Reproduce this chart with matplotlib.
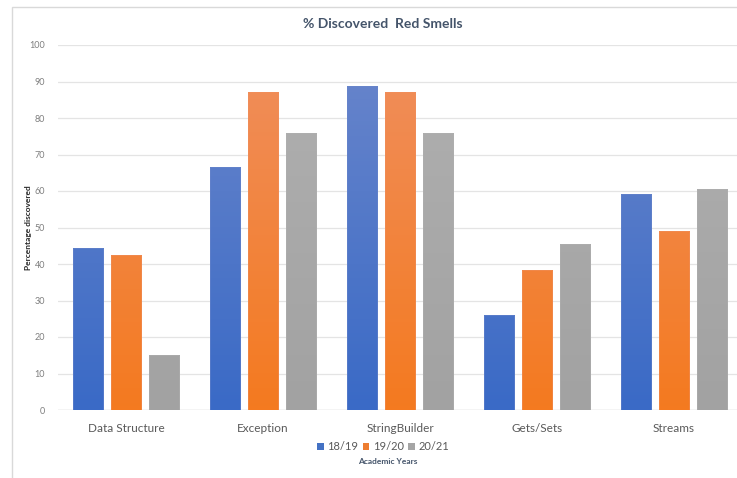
import numpy as np
import matplotlib
matplotlib.use("Agg")
import matplotlib.pyplot as plt
from matplotlib.patches import Patch, Rectangle
from matplotlib.colors import LinearSegmentedColormap

plt.rcParams['font.family'] = ['Lato', 'DejaVu Sans']

# datos
categories = ["Data Structure", "Exception", "StringBuilder", "Gets/Sets", "Streams"]
years = ["18/19", "19/20", "20/21"]
values_1819 = [44.4, 66.7, 88.9, 25.9, 59.3]
values_1920 = [42.5, 87.0, 87.0, 38.3, 49.0]
values_2021 = [15.1, 75.8, 75.8, 45.5, 60.6]

series = [values_1819, values_1920, values_2021]
# (arriba, abajo) del degradado
grad_colors = [("#6A86CB", "#3A6AC6"), ("#F08F5E", "#F47A20"), ("#B0B0B0", "#A2A2A2")]
legend_colors = ["#4472C4", "#ED7D31", "#A5A5A5"]
text_color = "#595959"
title_color = "#44546A"

W, H = 737, 478
fig = plt.figure(figsize=(W / 100, H / 100), dpi=100)
fig.patch.set_facecolor("white")

# marco del grafico
fig.patches.append(Rectangle((12 / W, -0.05), 1.1, 1 - 7 / H + 0.05, transform=fig.transFigure,
                             fill=False, edgecolor="#D9D9D9", linewidth=1.0))

ax = fig.add_axes([57.5 / W, (H - 410) / H, 685 / W, 365 / H])

x = np.arange(len(categories))
width = 0.219
step = 0.277

for i, vals in enumerate(series):
    top, bottom = grad_colors[i]
    cmap = LinearSegmentedColormap.from_list("g%d" % i, [bottom, top])
    bars = ax.bar(x + (i - 1) * step, vals, width, color=legend_colors[i],
                  edgecolor="none", zorder=2)
    for b in bars:
        bx, by = b.get_x(), b.get_y()
        bw, bh = b.get_width(), b.get_height()
        grad = np.linspace(0, 1, 100).reshape(-1, 1)
        im = ax.imshow(grad, cmap=cmap, origin="lower", aspect="auto",
                       extent=[bx, bx + bw, 0, 100], zorder=3, vmin=0, vmax=1)
        im.set_clip_path(b)
        edge = Rectangle((bx, by), bw, bh, fill=False, edgecolor=top,
                         linewidth=0.6, zorder=4, alpha=0.6)
        ax.add_patch(edge)

ax.set_xlim(-0.5, 4.5)
ax.set_ylim(0, 100)

ax.set_yticks(np.arange(0, 101, 10))
ax.yaxis.grid(True, color="#E4E4E4", linewidth=0.9)
ax.set_axisbelow(True)
for s in ["top", "right", "left", "bottom"]:
    ax.spines[s].set_visible(False)
ax.axhline(0, color="#D9D9D9", linewidth=1.0, zorder=1)

ax.set_xticks(x)
ax.set_xticklabels(categories, fontsize=8.5, color=text_color)
ax.tick_params(axis="x", length=0, pad=9)
ax.tick_params(axis="y", length=0, pad=9, labelsize=6.5, labelcolor="#7F7F7F")

fig.text(383 / W, 1 - 24 / H, "% Discovered  Red Smells", ha="center", va="center",
         fontsize=10, fontweight="bold", color=title_color)
fig.text(29 / W, 1 - 228 / H, "Percentage discovered", rotation=90, ha="center",
         va="center", fontsize=6, fontweight="bold", color="#262626")
fig.text(388 / W, 1 - 462 / H, "Academic Years", ha="center", va="center",
         fontsize=6, fontweight="bold", color=title_color)

handles = [Patch(facecolor=c, edgecolor="none") for c in legend_colors]
fig.legend(handles, years, loc="center", bbox_to_anchor=(383 / W, 1 - 447 / H),
           ncol=3, frameon=False, fontsize=8, handlelength=0.6, handleheight=0.6,
           handletextpad=0.3, columnspacing=0.4, labelcolor=text_color)

plt.savefig("out.png", dpi=100, facecolor="white")
